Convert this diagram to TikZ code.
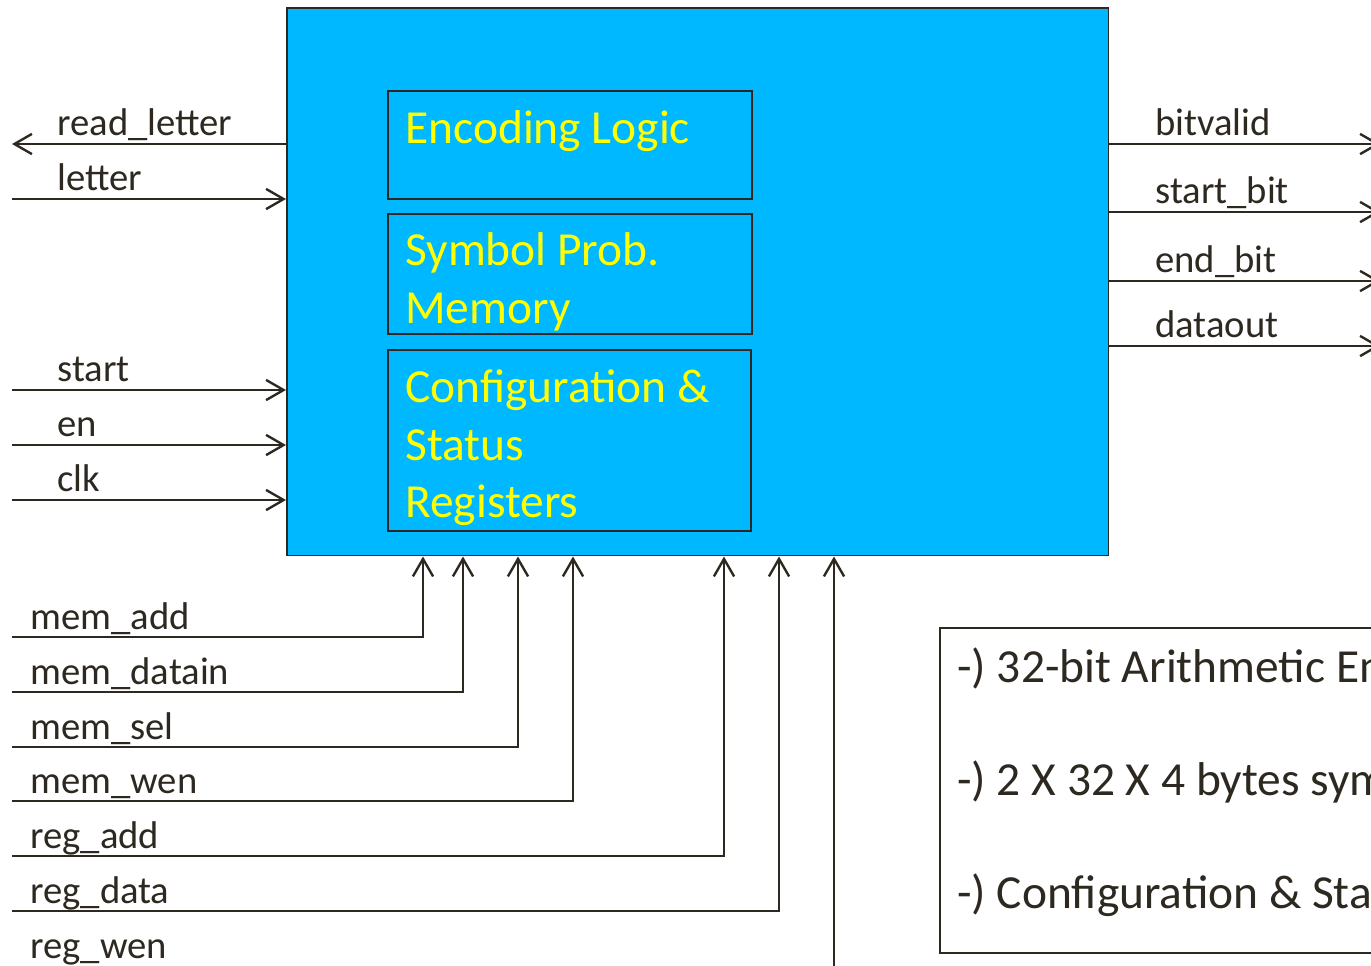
\documentclass[tikz,border=0pt]{standalone}
\usepackage{fontspec}
\setmainfont{Carlito}
\usepackage{tikz}
\usetikzlibrary{arrows.meta}
\usepackage{xcolor}
\definecolor{coreblue}{RGB}{0,184,255}
\definecolor{wiregrey}{RGB}{45,41,33}
\definecolor{blockyellow}{RGB}{255,255,0}

\begin{document}
\begin{tikzpicture}[x=0.02cm, y=-0.02cm,
    wire/.style={line width=1.35pt, wiregrey},
    barb/.style={-{Straight Barb[length=10pt,width=11.5pt,line width=1.35pt]}},
    backbarb/.style={{Straight Barb[length=10pt,width=11.5pt,line width=1.35pt]}-},
    sig/.style={anchor=base west, inner sep=0pt, text=wiregrey,
      font=\fontsize{22}{26}\selectfont},
    block/.style={draw=wiregrey, line width=1pt, anchor=north west, inner sep=0pt},
    blocktext/.style={anchor=base west, inner sep=0pt, text=blockyellow,
      font=\fontsize{27}{32}\selectfont},
    notetext/.style={anchor=base west, inner sep=0pt, text=wiregrey,
      font=\fontsize{27}{32}\selectfont}]
    \useasboundingbox (0,0) rectangle (1371,965);
    \clip (0,0) rectangle (1371,965);

    % ── Encoder core ──────────────────────────────────────────────────
    \node[block, fill=coreblue, line width=0.9pt,
      minimum width=16.44cm, minimum height=10.96cm] (core) at (286,7) {};

    % Sub-blocks
    \node[block, minimum width=7.28cm, minimum height=2.16cm] (enc) at (387,90) {};
    \node[blocktext] (enc-t) at (405,143) {Encoding Logic};

    \node[block, minimum width=7.28cm, minimum height=2.40cm] (prob) at (387,213) {};
    \node[blocktext] (prob-t1) at (405,265) {Symbol Prob.};
    \node[blocktext] (prob-t2) at (405,323) {Memory};

    \node[block, minimum width=7.26cm, minimum height=3.62cm] (csr) at (387,349) {};
    \node[blocktext] (csr-t1) at (405,402) {Configuration \&};
    \node[blocktext] (csr-t2) at (405,460) {Status};
    \node[blocktext] (csr-t3) at (405,517) {Registers};

    % ── Left side ports ───────────────────────────────────────────────
    \coordinate (rl) at (12,144);
    \draw[wire,backbarb] (rl) -- (rl -| core.west);
    \node[sig] (rl-t) at (57,135) {read\_letter};
    \foreach \y/\lab in {199/letter, 390/start, 445/en, 500/clk}{
      \coordinate (in-\lab) at (12,\y);
      \draw[wire,barb] (in-\lab) -- (in-\lab -| core.west);
      \node[sig] (in-\lab-t) at (57,\y-9) {\lab};
    }

    % ── Right side ports ──────────────────────────────────────────────
    \foreach \y/\nm/\lab in {144/bv/bitvalid, 212/sb/start\_bit,
        281/eb/end\_bit, 346/dout/dataout}{
      \coordinate (out-\nm) at (1380,\y);
      \draw[wire,barb] (out-\nm -| core.east) -- (out-\nm);
      \node[sig] (out-\nm-t) at (1155,\y-9) {\lab};
    }

    % ── Memory / register bus from below ──────────────────────────────
    \foreach \x/\y/\nm/\lab in {423/637/ma/mem\_add, 463/692/md/mem\_datain,
        518/747/ms/mem\_sel, 573/801/mw/mem\_wen, 724/856/ra/reg\_add,
        779/911/rd/reg\_data, 834/971/rw/reg\_wen}{
      \coordinate (bus-\nm) at (12,\y);
      \draw[wire,barb] (bus-\nm) -| (\x,0 |- core.south);
    }
    \foreach \y/\nm/\lab in {637/ma/mem\_add, 692/md/mem\_datain,
        747/ms/mem\_sel, 801/mw/mem\_wen, 856/ra/reg\_add,
        911/rd/reg\_data, 966/rw/reg\_wen}
      \node[sig] (bus-\nm-t) at (30,\y-8) {\lab};

    % ── Feature list ──────────────────────────────────────────────────
    \node[block, line width=1.2pt, minimum width=15.22cm, minimum height=6.5cm]
      (notes) at (939,627) {};
    \node[notetext] (note1) at (957,682) {-) 32-bit Arithmetic Encoder};
    \node[notetext] (note2) at (957,795) {-) 2 X 32 X 4 bytes symbol memory};
    \node[notetext] (note3) at (957,908) {-) Configuration \& Status Registers};
\end{tikzpicture}
\end{document}
